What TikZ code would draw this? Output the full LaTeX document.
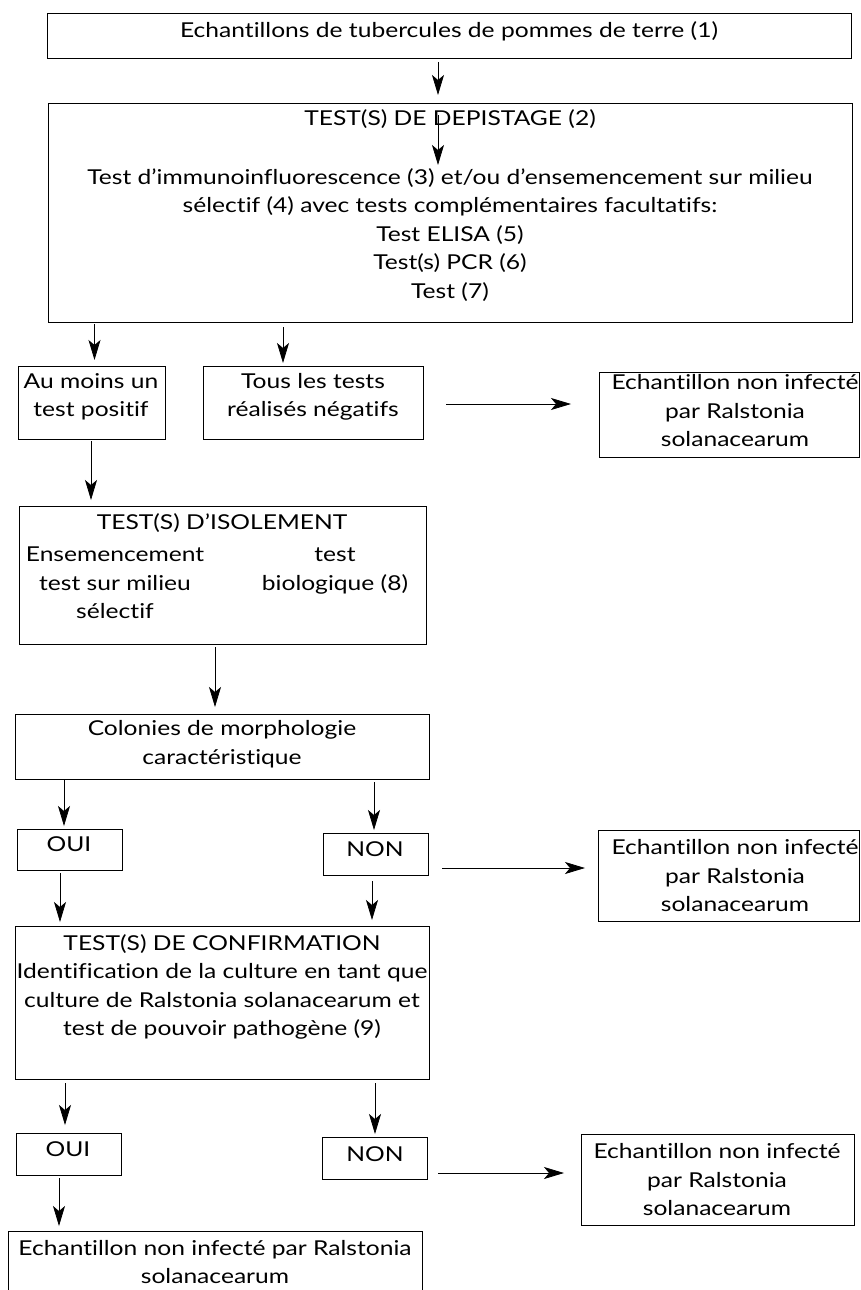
\documentclass[tikz,border=0pt]{standalone}
\usepackage{fontspec}
\setmainfont{Lato}[FakeStretch=1.2, Ligatures=NoCommon]
\usetikzlibrary{arrows.meta}
\tikzset{
  box/.style={draw, line width=0.9pt, inner sep=0pt},
  txt/.style={align=center, inner sep=0pt, font=\fontsize{20.5}{28.5}\selectfont},
  arr/.style={line width=0.8pt, -{Stealth[length=20pt,width=12pt,inset=5pt]}}
}
\begin{document}
\begin{tikzpicture}[x=1pt,y=-1pt]
\useasboundingbox (0,0) rectangle (861,1290);
% boxes
\node[box, minimum width=804pt, minimum height=45pt] (b1) at (449,35.5) {};
\node[box, minimum width=804pt, minimum height=219pt] (b2) at (450,212.5) {};
\node[box, minimum width=147pt, minimum height=73pt] (b3) at (91.5,402.5) {};
\node[box, minimum width=220pt, minimum height=73pt] (b4) at (313,402.5) {};
\node[box, minimum width=260pt, minimum height=85pt] (b5) at (729,414.5) {};
\node[box, minimum width=407pt, minimum height=138pt] (b6) at (222.5,575) {};
\node[box, minimum width=414pt, minimum height=65pt] (b7) at (222,746.5) {};
\node[box, minimum width=105pt, minimum height=41pt] (b8) at (69.5,849.5) {};
\node[box, minimum width=105pt, minimum height=42pt] (b9) at (375.5,854) {};
\node[box, minimum width=261pt, minimum height=91pt] (b10) at (728.5,875.5) {};
\node[box, minimum width=414pt, minimum height=153pt] (b11) at (222,1002.5) {};
\node[box, minimum width=105pt, minimum height=42pt] (b12) at (68.5,1154) {};
\node[box, minimum width=105pt, minimum height=42pt] (b13) at (374.5,1158) {};
\node[box, minimum width=273pt, minimum height=91pt] (b14) at (717.5,1179.5) {};
\coordinate (f1) at (8,1295);
\coordinate (f2) at (8,1231);
\coordinate (f3) at (422,1231);
\coordinate (f4) at (422,1295);
\draw[line width=0.9pt] (f1) -- (f2) -- (f3) -- (f4);
% texts
\node[txt] (t1) at (449,31) {Echantillons de tubercules de pommes de terre (1)};
\node[txt] (t2) at (450,119) {TEST(S) DE DEPISTAGE (2)};
\node[txt] (t3) at (450,235) {Test d’immunoinfluorescence (3) et/ou d’ensemencement sur milieu\\sélectif (4) avec tests complémentaires facultatifs:\\Test ELISA (5)\\Test(s) PCR (6)\\Test (7)};
\node[txt] (t4) at (91,397) {Au moins un\\test positif};
\node[txt] (t5) at (313,397) {Tous les tests\\réalisés négatifs};
\node[txt] (t6) at (735,411) {Echantillon non infecté\\par Ralstonia\\solanacearum};
\node[txt] (t7) at (222,523) {TEST(S) D’ISOLEMENT};
\node[txt] (t8) at (115,583) {Ensemencement\\test sur milieu\\sélectif};
\node[txt] (t9) at (335,571) {test\\biologique (8)};
\node[txt] (t10) at (222,744) {Colonies de morphologie\\caractéristique};
\node[txt] (t11) at (69,844) {OUI};
\node[txt] (t12) at (375,849) {NON};
\node[txt] (t13) at (735,876) {Echantillon non infecté\\par Ralstonia\\solanacearum};
\node[txt] (t14) at (222,987) {TEST(S) DE CONFIRMATION\\Identification de la culture en tant que\\culture de Ralstonia solanacearum et\\test de pouvoir pathogène (9)};
\node[txt] (t15) at (68,1149) {OUI};
\node[txt] (t16) at (375,1154) {NON};
\node[txt] (t17) at (717,1180) {Echantillon non infecté\\par Ralstonia\\solanacearum};
\node[txt] (t18) at (215,1262) {Echantillon non infecté par Ralstonia\\solanacearum};
% arrow end points
\coordinate (a1s) at (438,62);   \coordinate (a1e) at (438,95);
\coordinate (a2s) at (438,115);  \coordinate (a2e) at (438,165);
\coordinate (a3s) at (94.5,324); \coordinate (a3e) at (94.5,360);
\coordinate (a4s) at (283,327);  \coordinate (a4e) at (283,363);
\coordinate (a5s) at (446,404);  \coordinate (a5e) at (571,404);
\coordinate (a6s) at (91,441);   \coordinate (a6e) at (91,500);
\coordinate (a7s) at (215,647);  \coordinate (a7e) at (215,707);
\coordinate (a8s) at (64,779);   \coordinate (a8e) at (64,826);
\coordinate (a9s) at (374,782);  \coordinate (a9e) at (374,830);
\coordinate (a10s) at (442,868); \coordinate (a10e) at (585,868);
\coordinate (a11s) at (60,873);  \coordinate (a11e) at (60,922);
\coordinate (a12s) at (372,881); \coordinate (a12e) at (372,920);
\coordinate (a13s) at (65,1083); \coordinate (a13e) at (65,1125);
\coordinate (a14s) at (375,1083);\coordinate (a14e) at (375,1134);
\coordinate (a15s) at (438,1173);\coordinate (a15e) at (564,1173);
\coordinate (a16s) at (59,1178); \coordinate (a16e) at (59,1226);
\foreach \i in {1,...,16} {\draw[arr] (a\i s) -- (a\i e);}
\end{tikzpicture}
\end{document}
